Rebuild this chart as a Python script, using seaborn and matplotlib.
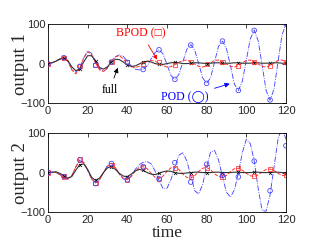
import numpy as np
import matplotlib
matplotlib.use('Agg')
import matplotlib.pyplot as plt
import seaborn as sns

sns.set_style('white')
plt.rcParams['font.family'] = ['Liberation Serif', 'DejaVu Sans']

# time grids
t = np.arange(0, 122, 2)
t_m = np.arange(0, 121, 8)

# output 1
full1 = [0, 2, 6, 11, 14, 8, -8, -18, -14, 4,
         20, 20, 6, -10, -14, -8, 4, 11, 10, 4,
         -3, -7, -6, -1, 4, 6, 4, 0, -2, -2,
         0, 2, 3, 2, 0, 0, 1, 2, 2, 1,
         0, 1, 2, 2, 1, 1, 1, 2, 2, 1,
         1, 1, 2, 2, 1, 1, 1, 2, 2, 1,
         1]
bpod1 = [0, 2, 6, 12, 15, 6, -16, -26, -14, 14,
         30, 22, 2, -16, -20, -10, 6, 18, 20, 12,
         0, -8, -10, -7, 0, 6, 8, 6, 1, -5,
         -9, -8, -3, 3, 8, 9, 5, -1, -7, -9,
         -5, 2, 8, 9, 5, -1, -7, -9, -5, 2,
         8, 9, 5, -1, -7, -9, -5, 2, 8, 9,
         5]
pod1 = [0, 2, 6, 12, 15, 6, -14, -22, -12, 14,
        32, 26, 6, -12, -20, -12, 4, 17, 22, 18,
        6, -6, -14, -16, -15, -6, 12, 28, 35, 25,
        -2, -30, -40, -28, 4, 36, 48, 34, 0, -36,
        -50, -36, 4, 44, 57, 38, -5, -52, -68, -45,
        8, 62, 85, 58, -4, -68, -93, -64, 4, 72,
        100]
pod1_m = [0, 15, -7, -4, 4, 3, -15, 35, -40, 47, -50, 57, -68, 84, -92, 100]
bpod1_m = [0, 15, -6, -4, 4, 3, -2, 3, -4, 3, 0, 5, -6, 5, -6, 5]

# output 2
full2 = [0, 1, 2, -2, -8, -14, -10, 6, 20, 22,
         8, -12, -20, -14, 0, 12, 15, 8, -2, -9,
         -10, -4, 4, 8, 6, 0, -4, -5, -2, 2,
         4, 3, 0, -2, -2, -1, 0, 1, 1, 0,
         0, 0, 1, 1, 0, 0, 0, 1, 1, 0,
         0, 0, 1, 1, 0, 0, 0, 1, 1, 0,
         0]
bpod2 = [0, 1, 0, -5, -11, -16, -8, 14, 32, 26,
         6, -16, -26, -18, 0, 16, 20, 12, -4, -15,
         -18, -10, 4, 13, 15, 10, -2, -12, -15, -9,
         3, 12, 14, 8, -4, -12, -14, -8, 3, 11,
         13, 7, -3, -10, -12, -7, 3, 10, 11, 6,
         -2, -8, -10, -6, 2, 8, 9, 5, -2, -7,
         -8]
pod2 = [0, 1, 0, -5, -12, -17, -8, 14, 30, 26,
        6, -16, -26, -18, 0, 18, 24, 14, -4, -16,
        -18, -8, 8, 20, 26, 28, 22, 4, -20, -40,
        -40, -18, 14, 44, 50, 30, -8, -46, -54, -30,
        14, 52, 56, 32, -10, -50, -62, -44, -2, 50,
        84, 74, 30, -40, -96, -98, -56, 14, 84, 116,
        84]
pod2_m = [0, -10, 32, -28, 23, -18, 15, -16, 25, -24, 21, -7, -11, 29, -46, 68]
bpod2_m = [0, -10, 33, -27, 20, -18, 14, -16, 12, -12, 13, -11, 11, -8, 9, -6]

fig = plt.figure(figsize=(3.22, 2.46), dpi=100)
ax1 = fig.add_axes([0.149, 0.581, 0.739, 0.321])
ax2 = fig.add_axes([0.149, 0.138, 0.739, 0.321])

panels = [(ax1, full1, bpod1, pod1, bpod1_m, pod1_m, 'output 1'),
          (ax2, full2, bpod2, pod2, bpod2_m, pod2_m, 'output 2')]

for ax, full, bpod, pod, bpod_m, pod_m, lab in panels:
    sns.lineplot(x=t, y=pod, ax=ax, color='#3a3aff', linestyle='-.', linewidth=0.6)
    sns.lineplot(x=t, y=bpod, ax=ax, color='#ff3030', linestyle='--', linewidth=0.7)
    sns.lineplot(x=t, y=full, ax=ax, color='#333333', linestyle='-', linewidth=0.8)
    sns.scatterplot(x=t_m, y=np.array(full)[::4], ax=ax, marker='x', s=5,
                    color='black', linewidth=0.5, zorder=4)
    sns.scatterplot(x=t_m, y=bpod_m, ax=ax, marker='s', s=9, facecolor='none',
                    edgecolor='#ff3030', linewidth=0.55, zorder=5)
    sns.scatterplot(x=t_m, y=pod_m, ax=ax, marker='o', s=11, facecolor='none',
                    edgecolor='#3a3aff', linewidth=0.55, zorder=5)
    ax.set_xlim(0, 120)
    ax.set_ylim(-100, 100)
    ax.set_xticks([0, 20, 40, 60, 80, 100, 120])
    ax.set_yticks([-100, 0, 100])
    ax.tick_params(direction='in', top=True, right=True, length=3, width=0.6,
                   labelsize=8, pad=2)
    for lbl in ax.get_xticklabels() + ax.get_yticklabels():
        lbl.set_family('Liberation Sans')
    ax.set_ylabel(lab, fontsize=13.5)
    ax.yaxis.set_label_coords(-0.08, 0.5)
    for s in ax.spines.values():
        s.set_linewidth(0.6)
        s.set_color('black')

ax2.set_xlabel('time', fontsize=12.5)
ax2.xaxis.set_label_coords(0.5, -0.16)

ax1.annotate('BPOD (□)', xy=(55.8, 4), xytext=(47, 77), color='red', fontsize=8.5,
             ha='center', va='center',
             arrowprops=dict(arrowstyle='-|>', color='red', lw=0.6, mutation_scale=6))
ax1.annotate('full', xy=(35.7, -4), xytext=(31, -67), color='black', fontsize=8.5,
             ha='center', va='center',
             arrowprops=dict(arrowstyle='-|>', color='black', lw=0.6, mutation_scale=7))
ax1.annotate('POD (◯)', xy=(93, -49), xytext=(69, -85), color='blue', fontsize=8.5,
             ha='center', va='center',
             arrowprops=dict(arrowstyle='-|>', color='blue', lw=0.6, mutation_scale=7))

fig.savefig('out.png', dpi=100)
